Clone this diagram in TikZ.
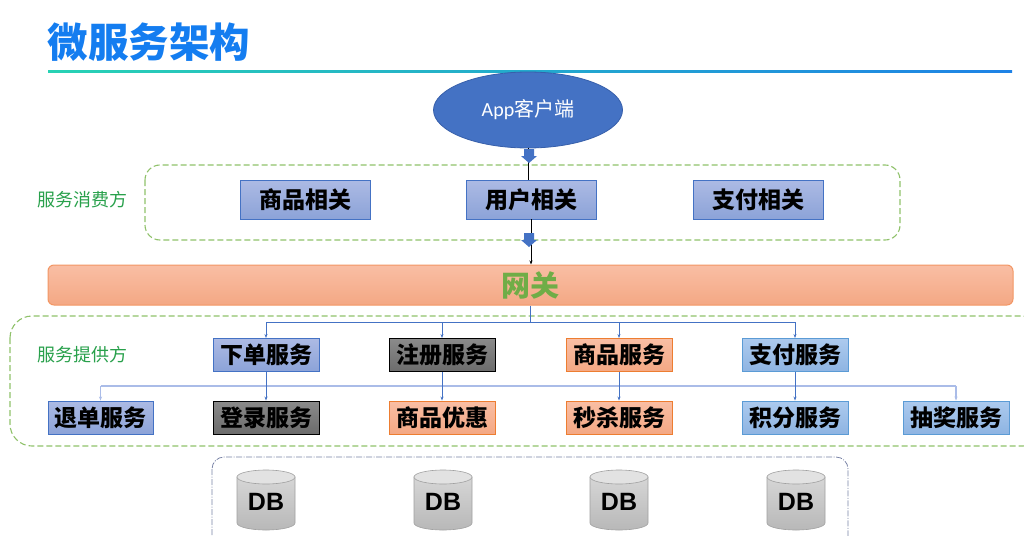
\documentclass[tikz,border=0pt]{standalone}
\usepackage{fontspec}
\setmainfont{Carlito}
\newfontfamily\cjk{Noto Sans CJK SC}
\newfontfamily\carl{Carlito}
\newfontfamily\dbfont{Liberation Sans}
\usetikzlibrary{shapes.geometric,arrows.meta}
\definecolor{titleblue}{RGB}{20,125,240}
\definecolor{accblue}{RGB}{68,114,196}
\definecolor{ellborder}{RGB}{55,95,170}
\definecolor{dashgreen}{RGB}{143,193,106}
\definecolor{labgreen}{RGB}{40,160,75}
\definecolor{gwgreen}{RGB}{112,173,71}
\definecolor{bluetop}{RGB}{172,186,228}
\definecolor{bluebot}{RGB}{140,163,216}
\definecolor{lbtop}{RGB}{172,202,238}
\definecolor{lbbot}{RGB}{142,180,226}
\definecolor{lbborder}{RGB}{91,155,213}
\definecolor{graytop}{RGB}{138,138,138}
\definecolor{graybot}{RGB}{108,108,108}
\definecolor{ortop}{RGB}{249,190,164}
\definecolor{orbot}{RGB}{244,168,132}
\definecolor{orborder}{RGB}{237,125,49}
\definecolor{gwborder}{RGB}{242,150,100}
\definecolor{liteline}{RGB}{170,188,232}
\definecolor{dbframe}{RGB}{120,130,165}
\tikzset{
  x=1pt,y=1pt,
  bluebox/.style={draw=accblue,line width=0.9pt,top color=bluetop,bottom color=bluebot,inner sep=0pt},
  lbbox/.style={draw=lbborder,line width=0.9pt,top color=lbtop,bottom color=lbbot,inner sep=0pt},
  graybox/.style={draw=black,line width=0.9pt,top color=graytop,bottom color=graybot,inner sep=0pt},
  orbox/.style={draw=orborder,line width=0.9pt,top color=ortop,bottom color=orbot,inner sep=0pt},
  conbox/.style={minimum width=130pt,minimum height=39pt,font=\cjk\bfseries\fontsize{23}{26}\selectfont},
  srvbox/.style={minimum width=106pt,minimum height=33pt,font=\cjk\bfseries\fontsize{23}{26}\selectfont},
  grpframe/.style={draw=dashgreen,line width=1.1pt,dash pattern=on 6pt off 3pt},
  conn/.style={draw=accblue,line width=0.8pt,-{Stealth[length=4pt,width=3pt]}},
  connplain/.style={draw=accblue,line width=0.9pt},
  liteconn/.style={draw=liteline,line width=1.5pt},
  pics/downblock/.style={code={\fill[accblue] (-5,0) -- (5,0) -- (5,-7) -- (8,-7) -- (0,-14) -- (-8,-7) -- (-5,-7) -- cycle;}}
}
\begin{document}
\begin{tikzpicture}
\useasboundingbox (0,0) rectangle (1024,-535);
% title
\node[font=\cjk\bfseries\fontsize{40.5}{44}\selectfont,text=titleblue,inner sep=0pt] (title) at (149,-42) {微服务架构};
\shade[left color={rgb,255:red,40;green,210;blue,180},right color={rgb,255:red,30;green,130;blue,230}] (48,-70) rectangle (1012,-72.5);
% frames
\draw[grpframe,rounded corners=15pt] (145,-165) rectangle (900,-240);
\draw[grpframe,rounded corners=22pt] (10,-316) rectangle (1045,-446);
\draw[draw=dbframe,line width=0.8pt,dash pattern=on 6pt off 1.5pt on 1pt off 1.5pt,rounded corners=12pt] (212,-457) rectangle (848,-570);
% labels
\node[font=\cjk\fontsize{18}{21}\selectfont,text=labgreen] (lcons) at (82,-200) {服务消费方};
\node[font=\cjk\fontsize{18}{21}\selectfont,text=labgreen] (lprov) at (82,-355) {服务提供方};
% client
\node[ellipse,draw=ellborder,line width=0.8pt,fill=accblue,minimum width=189pt,minimum height=76pt,inner sep=0pt,font=\fontsize{20}{24}\selectfont,text=white] (app) at (528,-110) {{\carl App}{\cjk 客户端}};
% consumer boxes
\node[bluebox,conbox] (sp) at (305,-199.5) {商品相关};
\node[bluebox,conbox] (yh) at (531,-199.5) {用户相关};
\node[bluebox,conbox] (zf) at (758,-199.5) {支付相关};
% gateway
\node[draw=gwborder,line width=1pt,top color=ortop,bottom color=orbot,rounded corners=6pt,minimum width=965pt,minimum height=40pt,inner sep=0pt,font=\cjk\bfseries\fontsize{29}{32}\selectfont,text=gwgreen] (gw) at (530.5,-285) {网关};
% provider top row
\node[bluebox,srvbox] (xd) at (266,-355) {下单服务};
\node[graybox,srvbox] (zc) at (442,-355) {注册服务};
\node[orbox,srvbox] (spfw) at (619,-355) {商品服务};
\node[lbbox,srvbox] (zffw) at (795,-355) {支付服务};
% provider bottom row
\node[bluebox,srvbox,minimum width=105pt] (td) at (100.5,-417.5) {退单服务};
\node[graybox,srvbox] (dl) at (266,-417.5) {登录服务};
\node[orbox,srvbox] (yhui) at (442,-417.5) {商品优惠};
\node[orbox,srvbox] (ms) at (619,-417.5) {秒杀服务};
\node[lbbox,srvbox] (jf) at (795,-417.5) {积分服务};
\node[lbbox,srvbox] (cj) at (956,-417.5) {抽奖服务};
% client -> consumer -> gateway
\draw[black,line width=0.6pt] (app.south) -- (app.south |- yh.north);
\pic at (529,-149) {downblock};
\draw[black,line width=0.6pt,-{Stealth[length=4pt,width=3pt]}] (yh.south) -- (yh.south |- gw.north);
\pic at (529,-233) {downblock};
% gateway -> providers
\coordinate (hub) at (530.5,-322);
\draw[connplain] (gw.south) -- (hub);
\draw[conn] (hub) -| (xd.north);
\draw[conn] (hub) -| (zc.north);
\draw[conn] (hub) -| (spfw.north);
\draw[conn] (hub) -| (zffw.north);
% second level
\coordinate (lv2) at (0,-386);
\draw[liteconn] (td.north |- lv2) -- (cj.north |- lv2);
\draw[conn,draw=liteline,line width=1.2pt] (td.north |- lv2) -- (td.north);
\draw[conn,draw=liteline,line width=1.2pt] (cj.north |- lv2) -- (cj.north);
\draw[conn] (xd.south) -- (dl.north);
\draw[conn] (zc.south) -- (yhui.north);
\draw[conn] (spfw.south) -- (ms.north);
\draw[conn] (zffw.south) -- (jf.north);
% databases
\foreach \cx/\nm in {266/db1,443/db2,619/db3,796/db4}{
  \shade[top color={rgb,255:red,214;green,214;blue,214},bottom color={rgb,255:red,184;green,184;blue,184},draw={rgb,255:red,160;green,160;blue,160},line width=0.6pt]
    (\cx-29,-477) -- (\cx-29,-523) arc[start angle=180,end angle=360,x radius=29,y radius=7] -- (\cx+29,-477) -- cycle;
  \draw[fill={rgb,255:red,226;green,226;blue,226},draw={rgb,255:red,160;green,160;blue,160},line width=0.6pt] (\cx,-477) ellipse [x radius=29,y radius=7];
  \node[font=\dbfont\bfseries\fontsize{25}{28}\selectfont,inner sep=0pt] (\nm) at (\cx,-502) {DB};
}
\end{tikzpicture}
\end{document}
